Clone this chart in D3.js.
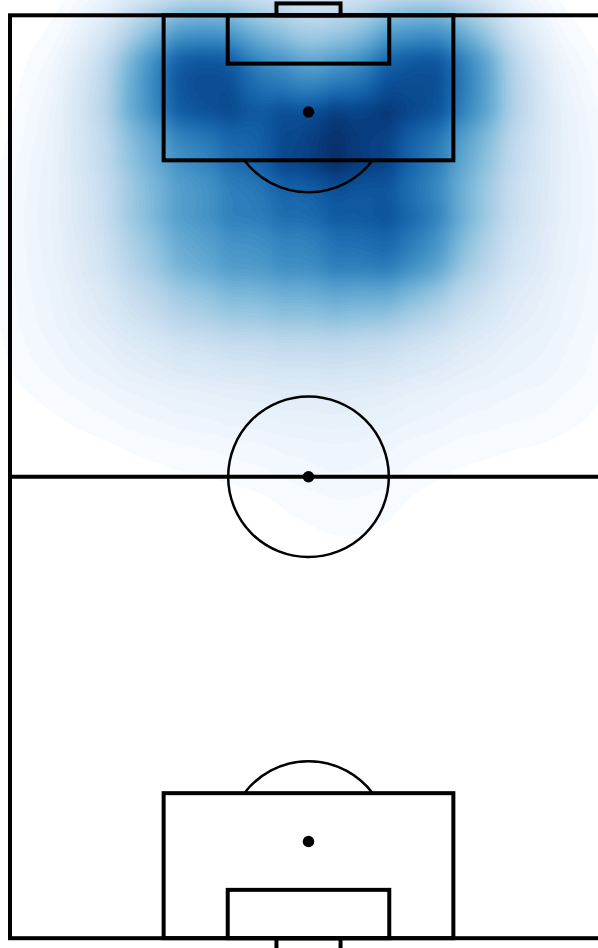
<!DOCTYPE html>
<html>
<head>
<meta charset="utf-8">
<script src="https://cdn.jsdelivr.net/npm/d3@7"></script>
<style>
  html, body { margin: 0; padding: 0; background: #fff; overflow: hidden; }
  svg { display: block; }
</style>
</head>
<body>
<div id="chart"></div>
<script>
// heat map values, on a coarse grid in metres from the top left corner
const gridX = [4, 10, 16, 22, 28, 34, 40, 46, 52, 58, 64]
const gridY = [2, 8, 14, 20, 26, 32, 38, 44, 50, 56]
const gridValues = [
  [0, .05, .48, .78, .52, .28, .40, .80, .60, .08, 0],
  [.01, .20, .80, 1.38, .78, .60, .70, 1.30, .92, .22, .03],
  [.035, .18, .50, .66, .84, 1.28, 1.28, .72, .52, .17, .06],
  [.07, .14, .50, .62, .76, .76, .84, .84, .46, .16, .07],
  [.07, .13, .44, .62, .68, .74, .92, .94, .40, .14, .07],
  [.06, .10, .26, .42, .47, .50, .52, .42, .20, .10, .06],
  [.05, .08, .12, .16, .18, .20, .20, .15, .10, .07, .05],
  [.01, .03, .06, .07, .08, .09, .09, .07, .05, .04, .03],
  [0, 0, .01, .02, .03, .05, .05, .03, .01, .01, 0],
  [0, 0, 0, 0, 0, .02, .04, 0, 0, 0, 0]
]

// pitch dimensions, in metres
const pitchWidth = 68
const pitchLength = 105
const boxWidth = 33
const boxDepth = 16.5
const sixWidth = 18.4
const sixDepth = 5.5
const goalWidth = 7.3
const goalDepth = 1.35
const spotDist = 11
const circleRadius = 9.15

const width = 598
const height = 948

var x = d3.scaleLinear().domain([0, pitchWidth]).range([10, 607])
var y = d3.scaleLinear().domain([0, pitchLength]).range([15.3, 938.2])
const metres = d => x(d) - x(0)

const svg = d3.select("#chart")
  .append("svg")
  .attr("width", width)
  .attr("height", height)

// heat map
const cells = gridValues.flatMap((row, j) => row.map((w, i) => ({ x: gridX[i], y: gridY[j], w: w })))

const density = d3.contourDensity()
  .x(d => x(d.x))
  .y(d => y(d.y))
  .weight(d => d.w)
  .size([640, 960])
  .cellSize(2)
  .bandwidth(34)
  .contours(cells)

const levels = 70
const lowest = 0.014
const path = d3.geoPath()
const heat = svg.append("g")

d3.range(levels).forEach(i => {
  const t = i / (levels - 1)
  heat.append("path")
    .attr("d", path(density(density.max * (lowest + (1 - lowest) * t * 0.995))))
    .attr("fill", d3.interpolateBlues(Math.pow(t, 0.88)))
})

// pitch lines
const pitch = svg.append("g")
  .attr("fill", "none")
  .attr("stroke", "#000")
  .attr("stroke-width", 4)

function centredRect(yTop, yBottom, w) {
  pitch.append("rect")
    .attr("x", x(pitchWidth / 2 - w / 2))
    .attr("y", y(yTop))
    .attr("width", metres(w))
    .attr("height", y(yBottom) - y(yTop))
}

pitch.append("rect")
  .attr("x", x(0))
  .attr("y", y(0))
  .attr("width", metres(pitchWidth))
  .attr("height", y(pitchLength) - y(0))

pitch.append("line")
  .attr("x1", x(0))
  .attr("x2", x(pitchWidth))
  .attr("y1", y(pitchLength / 2))
  .attr("y2", y(pitchLength / 2))

centredRect(0, boxDepth, boxWidth)
centredRect(0, sixDepth, sixWidth)
centredRect(-goalDepth, 0, goalWidth)
centredRect(pitchLength - boxDepth, pitchLength, boxWidth)
centredRect(pitchLength - sixDepth, pitchLength, sixWidth)
centredRect(pitchLength, pitchLength + goalDepth, goalWidth)

pitch.append("circle")
  .attr("cx", x(pitchWidth / 2))
  .attr("cy", y(pitchLength / 2))
  .attr("r", metres(circleRadius))
  .attr("stroke-width", 2.5)

// the D arcs outside each box
const arcAngle = Math.acos((boxDepth - spotDist) / circleRadius)
const dArc = d3.arc()
  .innerRadius(metres(circleRadius))
  .outerRadius(metres(circleRadius))

pitch.append("path")
  .attr("d", dArc({ startAngle: Math.PI - arcAngle, endAngle: Math.PI + arcAngle }))
  .attr("transform", "translate(" + x(pitchWidth / 2) + "," + y(spotDist) + ")")
  .attr("stroke-width", 2.5)

pitch.append("path")
  .attr("d", dArc({ startAngle: -arcAngle, endAngle: arcAngle }))
  .attr("transform", "translate(" + x(pitchWidth / 2) + "," + y(pitchLength - spotDist) + ")")
  .attr("stroke-width", 2.5)

// spots
svg.selectAll("circle.spot")
  .data([spotDist, pitchLength / 2, pitchLength - spotDist])
  .enter()
  .append("circle")
    .attr("class", "spot")
    .attr("cx", x(pitchWidth / 2))
    .attr("cy", d => y(d))
    .attr("r", 5.8)
    .attr("fill", "#000")
</script>
</body>
</html>
